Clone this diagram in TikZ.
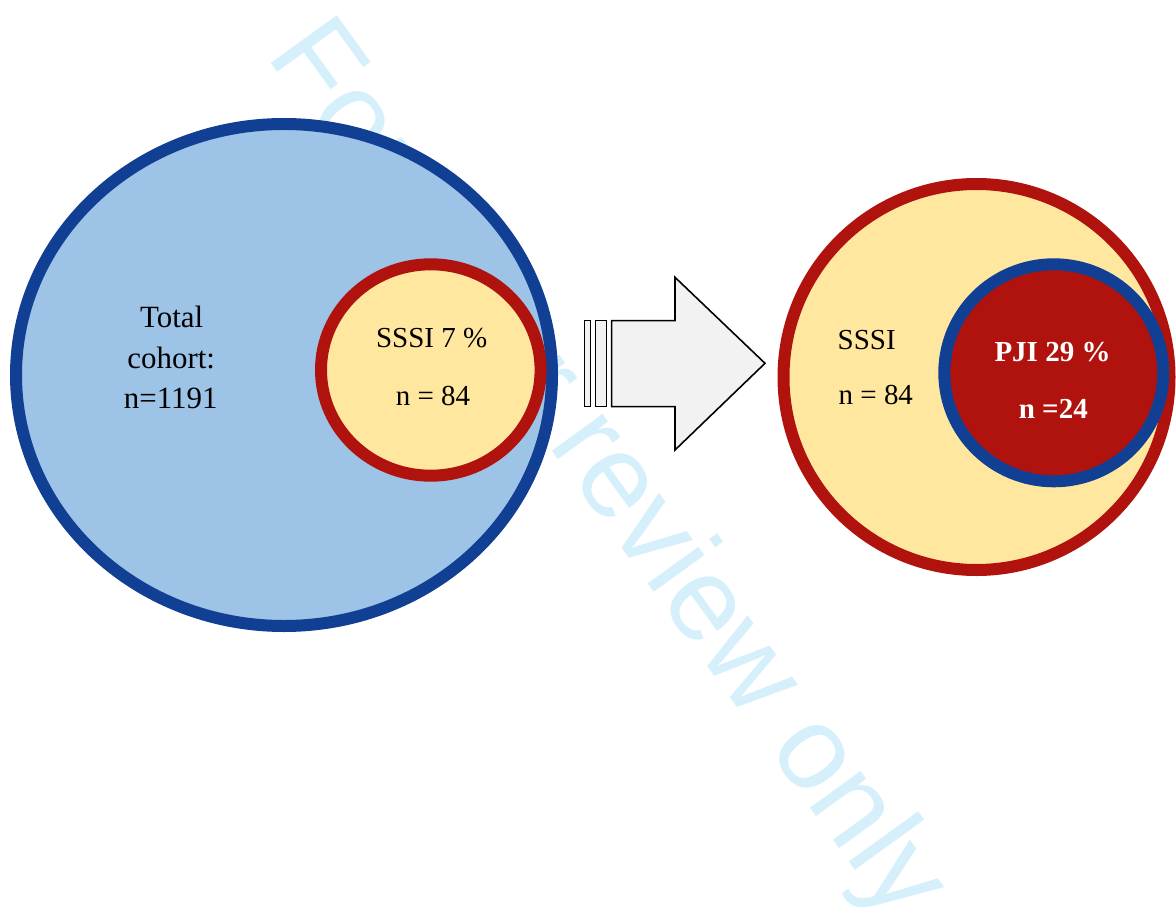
\documentclass[tikz,border=0pt]{standalone}
\usepackage{fontspec}
\setmainfont{Liberation Serif}
\setsansfont{Liberation Sans}
\definecolor{cohortblue}{RGB}{157,195,230}
\definecolor{ringblue}{RGB}{17,63,148}
\definecolor{ringred}{RGB}{176,18,14}
\definecolor{sssiyellow}{RGB}{255,231,160}
\definecolor{arrowgray}{RGB}{242,242,242}
\definecolor{markcyan}{RGB}{213,240,251}
\begin{document}
\begin{tikzpicture}[x=0.02cm,y=-0.02cm,
    ring/.style={line width=0.24cm},
    biglbl/.style={anchor=base,inner sep=0pt,font=\fontsize{17.6}{21}\selectfont},
    lbl/.style={anchor=base,inner sep=0pt,font=\fontsize{16.5}{20}\selectfont}]
    \useasboundingbox (0,0) rectangle (1176,922);
    \node[anchor=base,inner sep=0pt,rotate=-54.1,text=markcyan,font=\sffamily\fontsize{67.4}{67.4}\selectfont] (mark) at (580,490) {For peer review only};
    % left: total cohort with SSSI
    \filldraw[fill=cohortblue,draw=ringblue,ring] (284,375) ellipse (268 and 251);
    \filldraw[fill=sssiyellow,draw=ringred,ring] (430.8,370) ellipse (109.8 and 105.7);
    \node[biglbl] (total) at (171.7,327.3) {Total};
    \node[biglbl] (cohort) at (171.2,368.3) {cohort:};
    \node[biglbl] (ntotal) at (170.7,408.3) {n=1191};
    \node[lbl] (sssi) at (431.7,347.7) {SSSI 7 \%};
    \node[lbl] (nsssi) at (433,405.7) {n = 84};
    % arrow
    \filldraw[fill=arrowgray,draw=black,line width=0.9pt] (584.3,320.7) rectangle (590.7,406.7);
    \filldraw[fill=arrowgray,draw=black,line width=0.9pt] (595.3,320.7) rectangle (606.7,406.7);
    \filldraw[fill=arrowgray,draw=black,line width=0.9pt] (611.7,320.7) -- (675,320.7) -- (675,277.3)
      -- (765,363.3) -- (675,450) -- (675,406.7) -- (611.7,406.7) -- cycle;
    % right: SSSI with PJI
    \filldraw[fill=sssiyellow,draw=ringred,ring] (976.5,377) ellipse (193 and 193);
    \filldraw[fill=ringred,draw=ringblue,ring] (1053.8,372.8) ellipse (109.5 and 108.5);
    \node[lbl,anchor=base west] (sssiright) at (837.3,349.3) {SSSI};
    \node[lbl,anchor=base west] (nsssiright) at (838.3,404.3) {n = 84};
    \node[lbl,text=white,font=\bfseries\fontsize{16.5}{20}\selectfont] (pji) at (1052.5,361.7) {PJI 29 \%};
    \node[lbl,text=white,font=\bfseries\fontsize{16.5}{20}\selectfont] (npji) at (1053.3,418.3) {n =24};
  \end{tikzpicture}
\end{document}
